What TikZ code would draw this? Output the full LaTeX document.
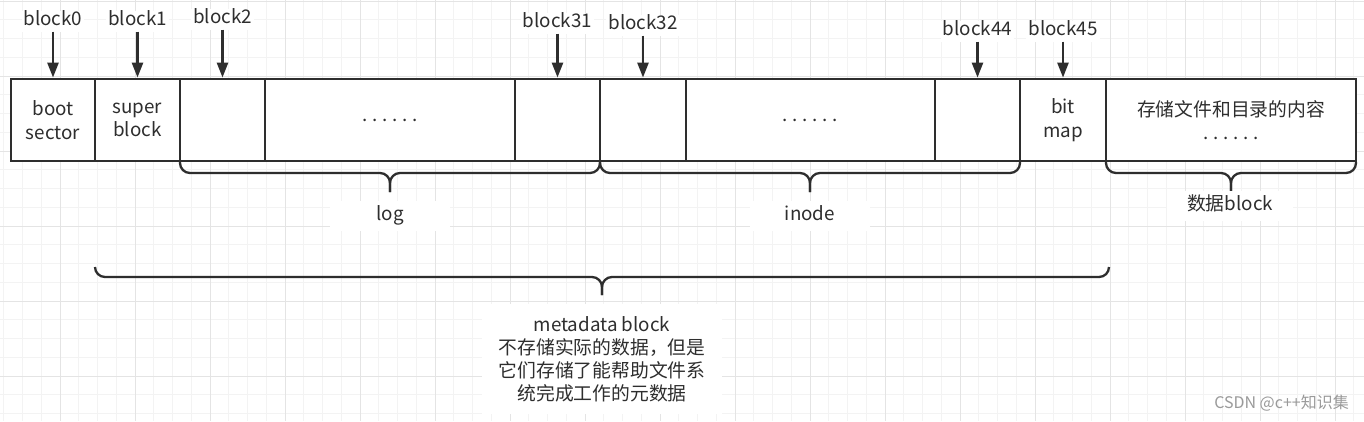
\documentclass[tikz,border=0pt]{standalone}
\usepackage{fontspec}
\setmainfont{Noto Sans CJK SC}
\usetikzlibrary{arrows.meta}
\definecolor{ink}{HTML}{2E2E2E}
\definecolor{gminor}{HTML}{F3F3F3}
\definecolor{gmajor}{HTML}{E4E4E4}
\definecolor{wm}{HTML}{9A9A9A}
\newcommand\sixdots{\makebox[10pt]{.}\makebox[10pt]{.}\makebox[10pt]{.}\makebox[10pt]{.}\makebox[10pt]{.}\makebox[10pt]{.}}
\begin{document}
\begin{tikzpicture}[x=1pt,y=-1pt,
  blk/.style={draw=ink, line width=2.8pt, fill=white, minimum height=82pt, inner sep=0pt,
    align=center, text=ink, font=\fontsize{18.8}{23.5}\selectfont},
  lbl/.style={fill=white, text=ink, inner sep=2pt, text height=13pt, text depth=4pt,
    font=\fontsize{18.8}{23}\selectfont},
  tag/.style={fill=white, text=ink, inner sep=0pt, align=center, font=\fontsize{18.8}{23}\selectfont},
  tag1/.style={tag, text height=13pt, text depth=4pt},
  ptr/.style={draw=ink, line width=2.5pt, -{Triangle[length=15pt,width=11pt]}},
  brc/.style={draw=ink, line width=2.3pt, rounded corners=10pt},
  gmin/.style={draw=gminor, line width=1pt},
  gmaj/.style={draw=gmajor, line width=1pt}
]
\fill[white] (0,0) rectangle (1364,421);
\useasboundingbox (0,0) rectangle (1364,421);
% grid
\foreach \i in {0,...,72} \draw[gmin] ({3.75+18.75*\i},0) -- ++(0,421);
\foreach \i in {0,...,22} \draw[gmin] (0,{1+18.75*\i}) -- ++(1364,0);
\foreach \i in {0,...,18} \draw[gmaj] ({-15+75*\i},0) -- ++(0,421);
\foreach \i in {0,...,5} \draw[gmaj] (0,{1+75*\i}) -- ++(1364,0);

% blocks
\node[blk, minimum width=84pt] (b0) at (53,120) {boot\\sector};
\node[blk, minimum width=85pt] (b1) at (137.5,120) {super\\block};
\node[blk, minimum width=85pt] (b2) at (222.5,120) {};
\node[blk, minimum width=250pt] (b3) at (390,120) {\sixdots};
\node[blk, minimum width=85pt] (b31) at (557.5,120) {};
\node[blk, minimum width=86pt] (b32) at (643,120) {};
\node[blk, minimum width=249pt] (b4) at (810.5,120) {\sixdots};
\node[blk, minimum width=85pt] (b44) at (977.5,120) {};
\node[blk, minimum width=86pt] (b45) at (1063,120) {bit\\map};
\node[blk, minimum width=250pt] (b5) at (1231,120) {存储文件和目录的内容\\\sixdots};

% pointer labels
\node[lbl] (l0) at (53,21) {block0};
\node[lbl] (l1) at (137.5,21) {block1};
\node[lbl] (l2) at (222.5,19) {block2};
\node[lbl] (l31) at (557.5,23) {block31};
\node[lbl] (l32) at (643,25) {block32};
\node[lbl] (l44) at (977.5,31) {block44};
\node[lbl] (l45) at (1063,31) {block45};

\draw[ptr] (l0) -- (b0);
\draw[ptr] (l1) -- (b1);
\draw[ptr] (l2) -- (b2);
\draw[ptr] (l31) -- (b31);
\draw[ptr] (l32) -- (b32);
\draw[ptr] (l44) -- (b44);
\draw[ptr] (l45) -- (b45);

% braces
\draw[brc] (180,162) -- (180,173) -- (390,173) -- (390,192);
\draw[brc] (600,162) -- (600,173) -- (390,173) -- (390,192);
\draw[brc] (600,162) -- (600,173) -- (810,173) -- (810,192);
\draw[brc] (1020,162) -- (1020,173) -- (810,173) -- (810,192);
\draw[brc] (1106,162) -- (1106,173) -- (1231,173) -- (1231,192);
\draw[brc] (1356,162) -- (1356,173) -- (1231,173) -- (1231,192);
\draw[brc] (95,267) -- (95,277) -- (602,277) -- (602,295);
\draw[brc] (1109,267) -- (1109,277) -- (602,277) -- (602,295);

% brace labels
\node[tag1, minimum width=120pt, minimum height=30pt] (tlog) at (390,216) {log};
\node[tag1, minimum width=120pt, minimum height=30pt] (tinode) at (810,216) {inode};
\node[tag1, minimum width=126pt, minimum height=30pt] (tdata) at (1230,206) {数据block};
\node[tag, minimum width=240pt, minimum height=110pt] (tmeta) at (602,359)
  {metadata block\\不存储实际的数据，但是\\它们存储了能帮助文件系\\统完成工作的元数据};

% watermark
\node[text=wm, inner sep=0pt, anchor=east, font=\fontsize{16}{16}\selectfont] (wmk) at (1349,403) {CSDN @c++知识集};
\end{tikzpicture}
\end{document}
